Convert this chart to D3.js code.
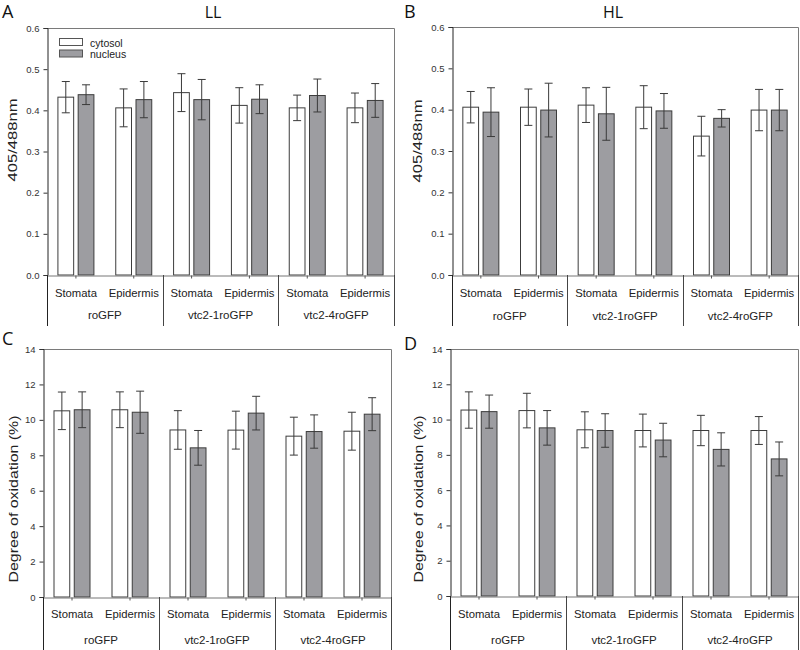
<!DOCTYPE html>
<html>
<head>
<meta charset="utf-8">
<script src="https://cdn.jsdelivr.net/npm/d3@7"></script>
<style>
  html, body { margin: 0; padding: 0; background: #fff; }
  svg { display: block; }
</style>
</head>
<body>
<svg id="chart" width="800" height="650"></svg>
<script>
// ---------------- data ----------------
const groups = ["roGFP", "vtc2-1roGFP", "vtc2-4roGFP"];
const tissues = ["Stomata", "Epidermis"];
const seriesNames = ["cytosol", "nucleus"];

// Panel A — LL, 405/488nm ratio
const llRatioCytosol    = [0.432, 0.406, 0.443, 0.412, 0.406, 0.406];
const llRatioCytosolErr = [0.038, 0.046, 0.046, 0.043, 0.031, 0.036];
const llRatioNucleus    = [0.438, 0.426, 0.426, 0.427, 0.436, 0.424];
const llRatioNucleusErr = [0.024, 0.044, 0.049, 0.035, 0.040, 0.041];

// Panel B — HL, 405/488nm ratio
const hlRatioCytosol    = [0.406, 0.406, 0.411, 0.406, 0.336, 0.399];
const hlRatioCytosolErr = [0.038, 0.044, 0.042, 0.052, 0.048, 0.050];
const hlRatioNucleus    = [0.394, 0.399, 0.390, 0.397, 0.379, 0.399];
const hlRatioNucleusErr = [0.059, 0.065, 0.064, 0.042, 0.021, 0.050];

// Panel C — LL, degree of oxidation (%)
const llOxCytosol    = [10.51, 10.57, 9.43, 9.42, 9.08, 9.36];
const llOxCytosolErr = [1.06, 1.01, 1.09, 1.07, 1.07, 1.07];
const llOxNucleus    = [10.57, 10.43, 8.42, 10.38, 9.34, 10.32];
const llOxNucleusErr = [1.01, 1.19, 0.98, 0.95, 0.94, 0.93];

// Panel D — HL, degree of oxidation (%)
const hlOxCytosol    = [10.54, 10.51, 9.42, 9.38, 9.38, 9.38];
const hlOxCytosolErr = [1.03, 0.98, 1.02, 0.93, 0.86, 0.79];
const hlOxNucleus    = [10.45, 9.53, 9.38, 8.84, 8.31, 7.77];
const hlOxNucleusErr = [0.94, 0.98, 0.95, 0.95, 0.94, 0.96];

const ratioTicks = [0, 0.1, 0.2, 0.3, 0.4, 0.5, 0.6];
const oxTicks = [0, 2, 4, 6, 8, 10, 12, 14];

// ---------------- drawing ----------------
const svg = d3.select("#chart");
const SANS = "'Liberation Sans', Arial, sans-serif";
const TITLEFONT = "'Open Sans', 'Noto Sans', sans-serif";
const fillColors = { cytosol: "#ffffff", nucleus: "#9d9da1" };

const categories = [];
groups.forEach(g => tissues.forEach(t => categories.push({ group: g, tissue: t, key: g + "|" + t })));

function drawPanel(cfg) {
  const { left, right, top, bottom } = cfg.box;
  const g = svg.append("g");

  const x0 = d3.scaleBand().domain(categories.map(c => c.key)).range([left, right]).padding(0);
  const x1 = d3.scaleBand().domain(seriesNames).range([0, 37]).paddingInner(0.173).paddingOuter(0);
  const y = d3.scaleLinear().domain([0, cfg.yMax]).range([bottom, top]);

  const rows = [];
  categories.forEach((c, i) => {
    rows.push({ cat: c, s: "cytosol", v: cfg.cyt[i], e: cfg.cytErr[i] });
    rows.push({ cat: c, s: "nucleus", v: cfg.nuc[i], e: cfg.nucErr[i] });
  });
  const barX = d => x0(d.cat.key) + x0.bandwidth() / 2 - 18.5 + x1(d.s);

  // frame (top + right)
  g.append("path")
    .attr("d", `M${left},${top + 0.5}H${right + 0.5}V${bottom}`)
    .attr("fill", "none").attr("stroke", "#7a7a7a").attr("stroke-width", 1);

  // bars
  g.selectAll("rect.bar").data(rows).join("rect")
    .attr("class", "bar")
    .attr("x", d => barX(d) + 0.5)
    .attr("y", d => y(d.v))
    .attr("width", x1.bandwidth() - 1)
    .attr("height", d => y(0) - y(d.v))
    .attr("fill", d => fillColors[d.s])
    .attr("stroke", "#3c3c3c").attr("stroke-width", 1);

  // error bars
  const eg = g.selectAll("g.err").data(rows).join("g").attr("class", "err")
    .attr("stroke", "#3a3a3a").attr("stroke-width", 1);
  eg.append("line")
    .attr("x1", d => barX(d) + x1.bandwidth() / 2).attr("x2", d => barX(d) + x1.bandwidth() / 2)
    .attr("y1", d => y(d.v + d.e)).attr("y2", d => y(d.v - d.e));
  eg.append("line")
    .attr("x1", d => barX(d) + x1.bandwidth() / 2 - 4).attr("x2", d => barX(d) + x1.bandwidth() / 2 + 4)
    .attr("y1", d => y(d.v + d.e)).attr("y2", d => y(d.v + d.e));
  eg.append("line")
    .attr("x1", d => barX(d) + x1.bandwidth() / 2 - 4).attr("x2", d => barX(d) + x1.bandwidth() / 2 + 4)
    .attr("y1", d => y(d.v - d.e)).attr("y2", d => y(d.v - d.e));

  // y axis
  const yAxis = d3.axisLeft(y).tickValues(cfg.ticks).tickSize(4).tickPadding(4)
    .tickFormat(cfg.fmt);
  const ya = g.append("g").attr("transform", `translate(${left + 0.5},0)`).call(yAxis);
  ya.select(".domain").attr("stroke", "#222");
  ya.selectAll(".tick line").attr("stroke", "#333");
  ya.selectAll("text").attr("font-family", SANS).attr("font-size", 9.5).attr("fill", "#333");

  // x axis line with small ticks at category centres
  const xAxis = d3.axisBottom(x0).tickSize(3).tickSizeOuter(0).tickFormat("");
  const xa = g.append("g").attr("transform", `translate(0,${bottom + 0.5})`).call(xAxis);
  xa.select(".domain").attr("stroke", "#777");
  xa.selectAll(".tick line").attr("stroke", "#555");

  // category labels
  g.selectAll("text.cat").data(categories).join("text")
    .attr("class", "cat")
    .attr("x", c => x0(c.key) + x0.bandwidth() / 2)
    .attr("y", bottom + cfg.catDy)
    .attr("text-anchor", "middle")
    .attr("font-family", SANS).attr("font-size", 11.3).attr("fill", "#222")
    .text(c => c.tissue);

  // group labels & separators
  const groupW = (right - left) / groups.length;
  g.selectAll("text.grp").data(groups).join("text")
    .attr("class", "grp")
    .attr("x", (d, i) => left + groupW * (i + 0.5))
    .attr("y", bottom + cfg.grpDy)
    .attr("text-anchor", "middle")
    .attr("font-family", SANS).attr("font-size", 11.5).attr("fill", "#222")
    .text(d => d);
  const seps = d3.range(groups.length + 1).map(i => left + groupW * i);
  g.selectAll("line.sep").data(seps).join("line")
    .attr("class", "sep")
    .attr("x1", d => Math.round(d) + 0.5).attr("x2", d => Math.round(d) + 0.5)
    .attr("y1", bottom).attr("y2", cfg.sepBottom)
    .attr("stroke", (d, i) => (i === 0 ? "#222" : "#444")).attr("stroke-width", 1);

  // y label
  g.append("text")
    .attr("transform", `translate(${cfg.ylabX},${cfg.ylabY}) rotate(-90)`)
    .attr("text-anchor", "middle").attr("dominant-baseline", "central")
    .attr("font-family", SANS).attr("font-size", 12.5).attr("fill", "#222")
    .attr("textLength", cfg.ylabLen).attr("lengthAdjust", "spacingAndGlyphs")
    .text(cfg.ylabel);

  // panel letter
  g.append("text").attr("x", cfg.letterX).attr("y", cfg.letterY)
    .attr("font-family", TITLEFONT).attr("font-size", 18).attr("fill", "#111")
    .text(cfg.letter);

  // title
  if (cfg.title) {
    g.append("text").attr("x", cfg.titleX).attr("y", 18)
      .attr("text-anchor", "middle")
      .attr("font-family", TITLEFONT).attr("font-size", 16).attr("fill", "#111")
      .text(cfg.title);
  }

  // legend
  if (cfg.legend) {
    const lg = g.append("g");
    seriesNames.forEach((s, i) => {
      lg.append("rect").attr("x", 59.5).attr("y", 38.5 + i * 11.5).attr("width", 23).attr("height", 7)
        .attr("fill", fillColors[s]).attr("stroke", "#555").attr("stroke-width", 1);
      lg.append("text").attr("x", 90).attr("y", 42.5 + i * 11.5)
        .attr("dominant-baseline", "central")
        .attr("font-family", SANS).attr("font-size", 10.5).attr("fill", "#222")
        .text(s);
    });
  }
}

const fmtRatio = d3.format(".1f");
const fmtOx = d3.format("d");

drawPanel({
  box: { left: 47, right: 394, top: 28, bottom: 275 },
  yMax: 0.6, ticks: ratioTicks, fmt: fmtRatio,
  cyt: llRatioCytosol, cytErr: llRatioCytosolErr, nuc: llRatioNucleus, nucErr: llRatioNucleusErr,
  catDy: 22, grpDy: 44, sepBottom: 326,
  ylabel: "405/488nm", ylabX: 13, ylabY: 140, ylabLen: 83,
  letter: "A", letterX: 2, letterY: 18, title: "LL", titleX: 213, legend: true
});
drawPanel({
  box: { left: 452, right: 798, top: 27, bottom: 275 },
  yMax: 0.6, ticks: ratioTicks, fmt: fmtRatio,
  cyt: hlRatioCytosol, cytErr: hlRatioCytosolErr, nuc: hlRatioNucleus, nucErr: hlRatioNucleusErr,
  catDy: 22, grpDy: 45, sepBottom: 326,
  ylabel: "405/488nm", ylabX: 418, ylabY: 141, ylabLen: 83,
  letter: "B", letterX: 404, letterY: 18, title: "HL", titleX: 613, legend: false
});
drawPanel({
  box: { left: 43, right: 391, top: 349, bottom: 597 },
  yMax: 14, ticks: oxTicks, fmt: fmtOx,
  cyt: llOxCytosol, cytErr: llOxCytosolErr, nuc: llOxNucleus, nucErr: llOxNucleusErr,
  catDy: 21, grpDy: 47, sepBottom: 650,
  ylabel: "Degree of oxidation (%)", ylabX: 14, ylabY: 499, ylabLen: 167,
  letter: "C", letterX: 2, letterY: 345, title: null, legend: false
});
drawPanel({
  box: { left: 450, right: 798, top: 349, bottom: 596 },
  yMax: 14, ticks: oxTicks, fmt: fmtOx,
  cyt: hlOxCytosol, cytErr: hlOxCytosolErr, nuc: hlOxNucleus, nucErr: hlOxNucleusErr,
  catDy: 22, grpDy: 48, sepBottom: 650,
  ylabel: "Degree of oxidation (%)", ylabX: 419, ylabY: 499, ylabLen: 167,
  letter: "D", letterX: 404, letterY: 350, title: null, legend: false
});
</script>
</body>
</html>
